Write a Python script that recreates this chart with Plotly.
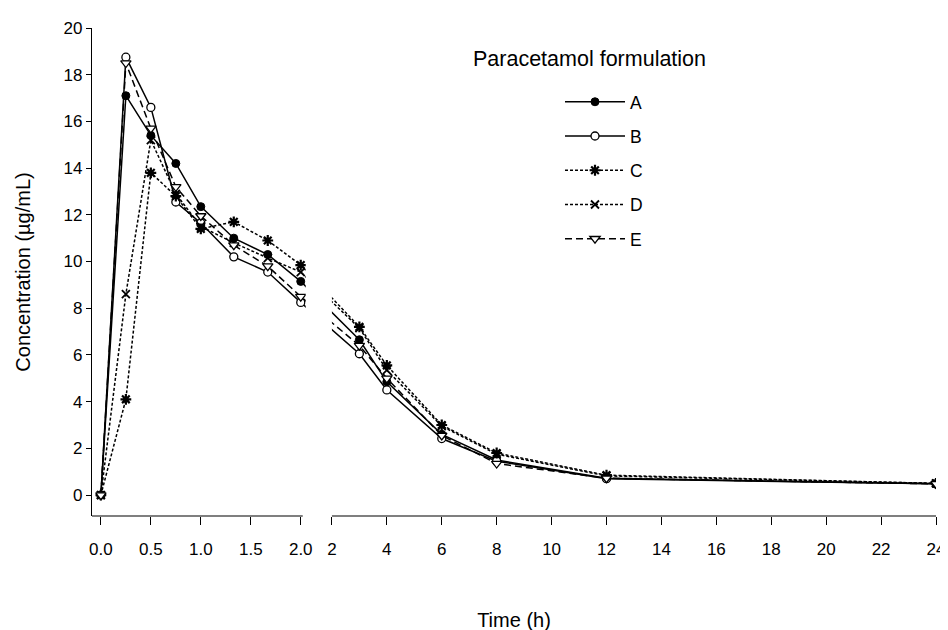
import numpy as np
import plotly.graph_objects as go

# ---- data ----
time_h = [0, 0.25, 0.5, 0.75, 1.0, 1.33, 1.67, 2.0, 3, 4, 6, 8, 12, 24]
conc_A = [0, 17.1, 15.4, 14.2, 12.35, 11.0, 10.3, 9.15, 6.65, 4.85, 2.6, 1.5, 0.72, 0.48]
conc_B = [0, 18.75, 16.6, 12.55, 11.65, 10.2, 9.55, 8.25, 6.05, 4.5, 2.42, 1.45, 0.7, 0.48]
conc_C = [0, 4.1, 13.8, 12.8, 11.4, 11.7, 10.9, 9.85, 7.2, 5.55, 3.0, 1.8, 0.85, 0.5]
conc_D = [0, 8.6, 15.2, 12.9, 11.5, 10.8, 10.15, 9.55, 7.15, 5.35, 2.95, 1.75, 0.82, 0.5]
conc_E = [0, 18.5, 15.7, 13.2, 11.95, 10.7, 9.8, 8.5, 6.4, 5.0, 2.55, 1.35, 0.72, 0.48]
formulations = ["A", "B", "C", "D", "E"]
left_ticks = [0.0, 0.5, 1.0, 1.5, 2.0]
left_tick_text = ["0.0", "0.5", "1.0", "1.5", "2.0"]
right_ticks = [2, 4, 6, 8, 10, 12, 14, 16, 18, 20, 22, 24]
y_ticks = [0, 2, 4, 6, 8, 10, 12, 14, 16, 18, 20]

# ---- broken time axis: 0-2 h expanded, 2-24 h compressed ----
BREAK_AT = 2.0
GAP = 0.312
RIGHT_SCALE = 0.2748


def right_axis(t):
    return BREAK_AT + GAP + (np.asarray(t, dtype=float) - BREAK_AT) * RIGHT_SCALE


def to_axis(t):
    t = np.asarray(t, dtype=float)
    return np.where(t <= BREAK_AT, t, right_axis(t))


X_MIN = -0.089
X_MAX = float(right_axis(24))

styles = {
    "A": dict(dash="solid", symbol="circle", mcolor="black", size=8, lw=1.0),
    "B": dict(dash="solid", symbol="circle", mcolor="white", size=8, lw=1.3),
    "C": dict(dash="3px,2px", symbol="asterisk-open", mcolor="black", size=9, lw=2.2),
    "D": dict(dash="3px,2px", symbol="x-thin-open", mcolor="black", size=8, lw=1.8),
    "E": dict(dash="7px,4px", symbol="triangle-down", mcolor="white", size=9, lw=1.3),
}
series = {"A": conc_A, "B": conc_B, "C": conc_C, "D": conc_D, "E": conc_E}

FONT = "Liberation Sans, Arial, sans-serif"

fig = go.Figure()
for name in formulations:
    s = styles[name]
    fig.add_trace(go.Scatter(
        x=to_axis(time_h), y=series[name], name=name, legendgroup=name,
        mode="lines+markers",
        line=dict(color="black", width=1.5, dash=s["dash"]),
        marker=dict(symbol=s["symbol"], size=s["size"], color=s["mcolor"],
                    line=dict(color="black", width=s["lw"])),
    ))

tickvals = list(to_axis(left_ticks)) + list(right_axis(right_ticks))
ticktext = left_tick_text + [str(v) for v in right_ticks]

fig.update_layout(
    width=948, height=630,
    margin=dict(l=84, r=11, t=19, b=122),
    paper_bgcolor="white", plot_bgcolor="white",
    font=dict(family=FONT, size=17, color="black"),
    showlegend=True,
    legend=dict(x=0.5545, y=0.8855, xanchor="left", yanchor="top",
                font=dict(size=17.5), itemwidth=60, tracegroupgap=8.5,
                traceorder="grouped", bgcolor="rgba(0,0,0,0)"),
    xaxis=dict(range=[X_MIN, X_MAX], showline=False, showgrid=False, zeroline=False,
               tickmode="array", tickvals=tickvals, ticktext=ticktext,
               ticks="outside", ticklen=8, tickwidth=1.2, tickcolor="black",
               ticklabelstandoff=10, tickfont=dict(size=17),
               title=dict(text="Time (h)", font=dict(size=20), standoff=54)),
    yaxis=dict(range=[-0.897, 20], showline=True, linecolor="black", linewidth=1.2,
               showgrid=False, zeroline=False, tickmode="array", tickvals=y_ticks,
               ticks="outside", ticklen=5, tickwidth=1.2, tickcolor="black",
               tickfont=dict(size=17),
               title=dict(text="Concentration (µg/mL)", font=dict(size=20), standoff=27)),
    annotations=[dict(text="Paracetamol formulation", xref="paper", yref="paper",
                      x=0.5897, y=0.9366, xanchor="center", yanchor="middle",
                      showarrow=False, font=dict(size=21.5))],
    shapes=[
        # white band hiding the lines inside the axis break
        dict(type="rect", xref="x", yref="y", x0=BREAK_AT + 0.05, x1=BREAK_AT + GAP,
             y0=-0.6, y1=20.5, fillcolor="white", line=dict(width=0), layer="above"),
        # the two pieces of the broken x-axis line
        dict(type="line", xref="x", yref="paper", x0=X_MIN, x1=BREAK_AT + 0.02, y0=0, y1=0,
             line=dict(color="black", width=1.2), layer="above"),
        dict(type="line", xref="x", yref="paper", x0=BREAK_AT + GAP, x1=X_MAX, y0=0, y1=0,
             line=dict(color="black", width=1.2), layer="above"),
    ],
)

fig.write_html("out.html")
